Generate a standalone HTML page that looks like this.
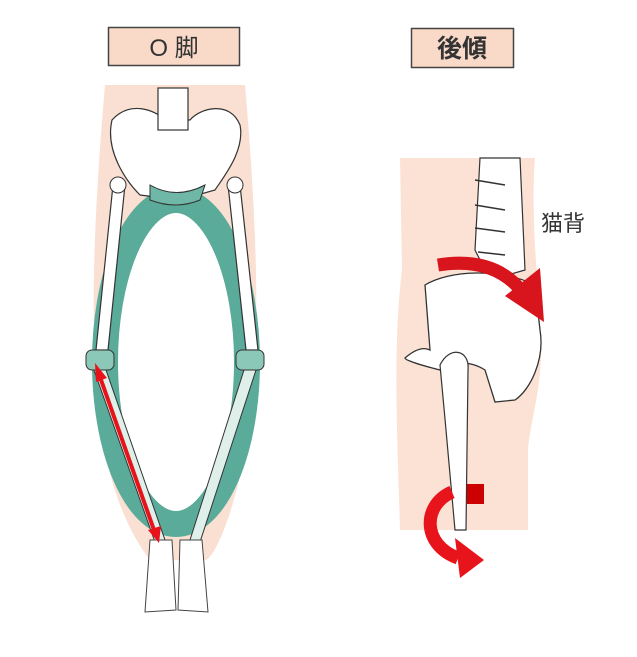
<!DOCTYPE html>
<html><head><meta charset="utf-8"><style>
body{margin:0;background:#fff;width:637px;height:657px;overflow:hidden}
svg{display:block}
text{font-family:"Liberation Sans","Noto Sans CJK JP",sans-serif;fill:#333}
</style></head><body>
<svg width="637" height="657" viewBox="0 0 637 657">
<rect x="108.5" y="27.5" width="131" height="38" fill="#f9d9c8" stroke="#444" stroke-width="1.5"/>
<text x="174" y="56" font-size="24" text-anchor="middle">O 脚</text>
<rect x="411.5" y="28.5" width="102" height="39" fill="#f9d9c8" stroke="#444" stroke-width="1.5"/>
<text x="462" y="57" font-size="25" text-anchor="middle" font-weight="bold">後傾</text>

<!-- left skin -->
<path d="M105 85 L245 85 C255 200 262 330 250 420 C240 500 215 560 205 560 L150 560 C135 540 110 500 100 420 C88 330 95 200 105 85 Z" fill="#fae0d2"/>
<!-- teal ring -->
<ellipse cx="176" cy="362" rx="71" ry="162" fill="#fff" stroke="#5aab99" stroke-width="26"/>
<!-- pelvis -->
<path d="M112 120 C130 100 155 110 165 120 L190 120 C200 108 230 100 240 125 C245 150 225 175 215 190 L180 200 L140 195 C125 180 105 150 112 120 Z" fill="#fff" stroke="#333" stroke-width="1.2"/>
<rect x="158" y="88" width="30" height="42" fill="#fff" stroke="#333" stroke-width="1.2"/>
<path d="M150 185 Q176 200 205 185 L200 200 Q176 210 150 200 Z" fill="#6fb8a8" stroke="#333"/>
<path d="M113 185 L125 185 L108 350 L96 350 Z" fill="#fff" stroke="#333" stroke-width="1.2"/>
<path d="M228 185 L240 185 L258 350 L246 350 Z" fill="#fff" stroke="#333" stroke-width="1.2"/>
<circle cx="118" cy="185" r="8" fill="#fff" stroke="#333"/><circle cx="235" cy="185" r="8" fill="#fff" stroke="#333"/>
<rect x="86" y="350" width="28" height="20" rx="6" fill="#8cc8b8" stroke="#333"/>
<rect x="236" y="350" width="28" height="20" rx="6" fill="#8cc8b8" stroke="#333"/>
<path d="M94 370 L106 370 L165 540 L155 542 Z" fill="#dff0ea" stroke="#333" stroke-width="1"/>
<path d="M244 370 L256 370 L200 542 L190 540 Z" fill="#dff0ea" stroke="#333" stroke-width="1"/>
<path d="M150 540 L172 540 L176 610 L145 612 Z" fill="#fff" stroke="#444" stroke-width="1"/>
<path d="M180 540 L202 540 L208 612 L178 610 Z" fill="#fff" stroke="#444" stroke-width="1"/>
<line x1="100" y1="377" x2="154" y2="530" stroke="#e8121a" stroke-width="4"/>
<polygon points="95,363 107,378 96,382" fill="#e8121a"/>
<polygon points="159,543 148,530 161,526" fill="#e8121a"/>

<!-- right skin -->
<path d="M400 158 L535 158 C530 220 540 300 540 330 C545 380 530 420 528 450 L528 530 L400 530 C398 450 392 350 402 270 Z" fill="#fbe2d4"/>
<path d="M480 158 L520 158 L525 270 L490 280 L475 250 Z" fill="#fff" stroke="#333" stroke-width="1.2"/>
<g stroke="#333" stroke-width="1.5"><line x1="475" y1="180" x2="505" y2="185"/><line x1="475" y1="205" x2="505" y2="210"/><line x1="475" y1="228" x2="505" y2="232"/><line x1="478" y1="252" x2="505" y2="255"/></g>
<path d="M425 285 C450 270 500 268 535 285 L540 330 C545 360 530 390 515 400 L495 402 L485 370 C470 360 445 360 440 370 C420 365 405 360 405 358 Q420 345 430 350 Z" fill="#fff" stroke="#333" stroke-width="1.3"/>
<path d="M440 365 C450 345 470 350 468 370 L466 530 L455 530 C450 470 445 420 440 365 Z" fill="#fff" stroke="#333" stroke-width="1.2"/>
<path d="M438 265 Q500 255 528 300" fill="none" stroke="#d8141c" stroke-width="13"/>
<polygon points="540,268 544,322 505,296" fill="#d8141c"/>
<rect x="467" y="484" width="17" height="20" fill="#cc0000"/>
<path d="M452 492 C422 505 422 545 458 558" fill="none" stroke="#e8141c" stroke-width="13"/>
<polygon points="455,538 484,560 460,578" fill="#e8141c"/>
<text x="541" y="231" font-size="22">猫背</text>
</svg>
</body></html>
